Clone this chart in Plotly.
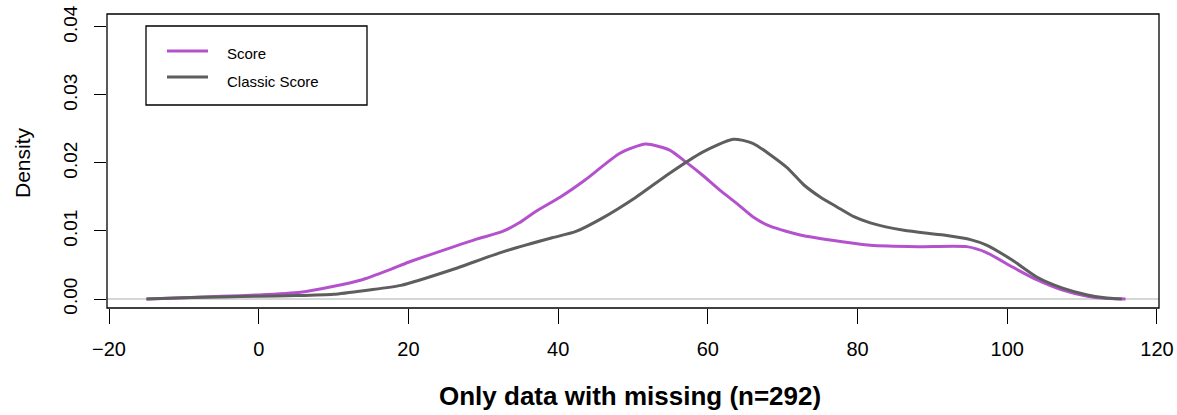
import plotly.graph_objects as go

# ---- data ----
score_x = [-15, -10, -5, 0, 5.6, 9.7, 13.7, 17.7, 20, 25.8, 29.1, 32.5, 34.8, 36.9, 40.3, 43.6,
           48.2, 51.7, 54.9, 57, 59.3, 61.6, 63.8, 66, 68.3, 72.8, 79.5, 81.7, 88, 94.6, 97.3,
           100.7, 104, 107.4, 110.7, 113, 115.8]
score_y = [0, 0.0002, 0.0004, 0.0006, 0.001, 0.0018, 0.0028, 0.0044, 0.0054, 0.0076, 0.0088,
           0.0099, 0.0112, 0.0128, 0.015, 0.0175, 0.0214, 0.0228, 0.0219, 0.0202, 0.0182,
           0.016, 0.0141, 0.0121, 0.0107, 0.0093, 0.0082, 0.0079, 0.0077, 0.0077, 0.0068,
           0.0047, 0.0028, 0.0013, 0.0004, 0.0001, 0]

classic_x = [-15, -10, -5, 0, 5, 10, 14.5, 19, 25.8, 32.5, 39.2, 42.3, 45.9, 50.3, 54.9,
             59.3, 63.4, 66, 70.5, 72.8, 75, 77.3, 79.5, 81.7, 86.2, 91.5, 95.2, 97.3,
             100.7, 104, 107.4, 110.7, 113, 115.3]
classic_y = [0, 0.0002, 0.0003, 0.0004, 0.0005, 0.0007, 0.0013, 0.002, 0.0043, 0.0069,
             0.009, 0.0099, 0.0119, 0.0149, 0.0185, 0.0216, 0.0235, 0.0229, 0.0194, 0.0168,
             0.015, 0.0135, 0.0121, 0.0112, 0.0101, 0.0094, 0.0087, 0.0079, 0.0057, 0.0032,
             0.0016, 0.0006, 0.0002, 0]

x_ticks = [-20, 0, 20, 40, 60, 80, 100, 120]
y_ticks = [0.00, 0.01, 0.02, 0.03, 0.04]
y_tick_labels = ["0.00", "0.01", "0.02", "0.03", "0.04"]
series_names = ["Score", "Classic Score"]
series_colors = ["#B452CD", "#5E5E5E"]
x_title = "Only data with missing (n=292)"
y_title = "Density"

FONT = "Liberation Sans, Arial, sans-serif"

# page body margin is removed below, so figure pixels == window pixels
OFF = 0
WIN_W, WIN_H = 1177, 415
W, H = WIN_W, WIN_H
box_l, box_r, box_t, box_b = 107, 1159, 14, 308   # plot box in window pixels
ml, mt = box_l - OFF, box_t - OFF
mr, mb = W - (box_r - OFF), H - (box_b - OFF)
pw, ph = W - ml - mr, H - mt - mb

def px(xp):
    return (xp - OFF - ml) / pw

def py(yp):
    return 1 - (yp - OFF - mt) / ph

fig = go.Figure()
fig.add_trace(go.Scatter(x=score_x, y=score_y, mode="lines", name=series_names[0],
                         line=dict(color=series_colors[0], width=3, shape="spline", smoothing=0.6)))
fig.add_trace(go.Scatter(x=classic_x, y=classic_y, mode="lines", name=series_names[1],
                         line=dict(color=series_colors[1], width=3, shape="spline", smoothing=0.6)))

# zero reference line
fig.add_shape(type="line", xref="paper", yref="y", x0=0, x1=1, y0=0, y1=0,
              line=dict(color="#C8C8C8", width=1.5), layer="below")
# plot box
fig.add_shape(type="rect", xref="paper", yref="paper", x0=0, x1=1, y0=0, y1=1,
              line=dict(color="black", width=1.3))

# manual R-style legend
fig.add_shape(type="rect", xref="paper", yref="paper", x0=px(146), x1=px(367), y0=py(105), y1=py(26),
              line=dict(color="black", width=1.3), fillcolor="white")
line_ys = [51, 77]
text_ys = [53, 81]
for nm, col, ly, ty in zip(series_names, series_colors, line_ys, text_ys):
    fig.add_shape(type="line", xref="paper", yref="paper", x0=px(167), x1=px(208), y0=py(ly), y1=py(ly),
                  line=dict(color=col, width=3))
    fig.add_annotation(xref="paper", yref="paper", x=px(225), y=py(ty), text=nm, showarrow=False,
                       xanchor="left", yanchor="middle", font=dict(family=FONT, size=15, color="black"))

# axis titles
fig.add_annotation(xref="paper", yref="paper", x=px(630), y=py(396), text="<b>" + x_title + "</b>",
                   showarrow=False, xanchor="center", yanchor="middle",
                   font=dict(family=FONT, size=26, color="black"))
fig.add_annotation(xref="paper", yref="paper", x=px(22), y=py(163), text=y_title, textangle=-90,
                   showarrow=False, xanchor="center", yanchor="middle",
                   font=dict(family=FONT, size=21, color="black"))

fig.update_layout(
    width=W, height=H,
    margin=dict(l=ml, r=mr, t=mt, b=mb, autoexpand=False),
    paper_bgcolor="white", plot_bgcolor="white",
    showlegend=False,
    font=dict(family=FONT, color="black"),
    xaxis=dict(range=[-20.27, 120.27], tickvals=x_ticks, ticks="outside", ticklen=15,
               tickwidth=1.3, tickcolor="black", showgrid=False, zeroline=False, showline=False,
               automargin=False, ticklabelstandoff=8, ticklabeloverflow="allow",
               tickfont=dict(family=FONT, size=20, color="black")),
    yaxis=dict(range=[-0.001324, 0.04191], tickvals=y_ticks, ticktext=y_tick_labels,
               ticks="outside", ticklen=12, tickwidth=1.3, tickcolor="black",
               showgrid=False, zeroline=False, showline=False, tickangle=-90,
               automargin=False, ticklabelstandoff=9, ticklabeloverflow="allow",
               tickfont=dict(family=FONT, size=19, color="black")),
)

fig.write_html("out.html", config={"displayModeBar": False},
               post_script="document.body.style.margin='0px';document.body.style.overflow='hidden';")
